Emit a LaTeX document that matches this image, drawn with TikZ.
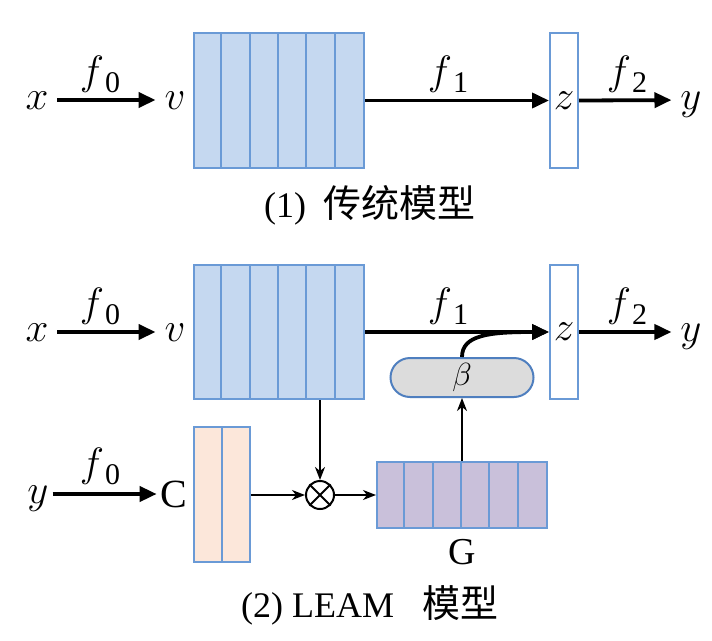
\RequirePackage{fix-cm}
\documentclass[tikz,border=0pt]{standalone}
\usepackage{fontspec}
\setmainfont{Liberation Serif}
\newfontfamily\cjk{Noto Sans CJK SC}
\usetikzlibrary{arrows.meta}
\definecolor{bfill}{HTML}{C5D8F0}
\definecolor{bline}{HTML}{6A9AD6}
\definecolor{pfill}{HTML}{FCE7DA}
\definecolor{gfill}{HTML}{C9C0DA}
\definecolor{betafill}{HTML}{DCDCDC}
\definecolor{betaline}{HTML}{4F7FBF}
\newcommand{\fsub}[2]{$#1$\kern1pt\raisebox{-0.2em}{\fontsize{30}{30}\selectfont #2}}
\tikzset{
  var/.style={font=\fontsize{41}{41}\selectfont, inner sep=0pt, outer sep=9pt, text height=18pt, text depth=0pt},
  flab/.style={font=\fontsize{41}{41}\selectfont, inner sep=0pt, anchor=base},
  blk/.style={draw=bline, line width=2pt, inner sep=0pt},
  sepl/.style={draw=bline, line width=2pt},
  big/.style={-{Triangle[length=17pt,width=15pt]}, line width=3.8pt},
  thinarr/.style={-{Stealth[length=13pt,width=10pt,inset=4pt]}, line width=1.8pt},
}
\begin{document}
\begin{tikzpicture}[x=1pt,y=-1pt]
\fill[white] (0,0) rectangle (712,640);
\useasboundingbox (0,0) rectangle (712,640);

% ---------- (1) traditional model ----------
\node[var] (x1) at (37,100) {$x$};
\node[var] (v1) at (175,100) {$v$};
\node[blk, fill=bfill, minimum width=170pt, minimum height=135pt] (b1) at (279,100.5) {};
\foreach \i in {1,...,5} \draw[sepl] ([xshift={\i*28.333pt}]b1.north west) -- ([xshift={\i*28.333pt}]b1.south west);
\node[blk, fill=white, minimum width=28pt, minimum height=135pt, font=\fontsize{41}{41}\selectfont] (z1) at (564,100.5) {$z$};
\node[var] (y1) at (691,100) {$y$};
\draw[big] (x1) -- (v1);
\draw[big] (b1.east |- z1) -- (z1.west);
\draw[big] (z1.east) -- (y1);
\node[flab] (f01) at (100,84) {\fsub{f}{0}};
\node[flab] (f11) at (448,84) {\fsub{f}{1}};
\node[flab] (f21) at (627,84) {\fsub{f}{2}};
\node[inner sep=0pt, font=\fontsize{36}{36}\selectfont] (cap1) at (370,205) {(1)\hspace{0.5em}{\cjk\fontsize{38}{38}\selectfont 传统模型}};

% ---------- (2) LEAM ----------
\node[var] (x2) at (37,332) {$x$};
\node[var] (v2) at (175,332) {$v$};
\node[blk, fill=bfill, minimum width=170pt, minimum height=134pt] (b2) at (279,332) {};
\foreach \i in {1,...,5} \draw[sepl] ([xshift={\i*28.333pt}]b2.north west) -- ([xshift={\i*28.333pt}]b2.south west);
\node[blk, fill=white, minimum width=28pt, minimum height=134pt, font=\fontsize{41}{41}\selectfont] (z2) at (564,332) {$z$};
\node[var] (y2) at (691,332) {$y$};
\draw[big] (x2) -- (v2);
\draw[big] (b2.east) -- (z2.west);
\draw[big] (z2.east) -- (y2);
\node[flab] (f02) at (100,316) {\fsub{f}{0}};
\node[flab] (f12) at (448,316) {\fsub{f}{1}};
\node[flab] (f22) at (627,316) {\fsub{f}{2}};

% beta capsule
\node[draw=betaline, fill=betafill, line width=2pt, minimum width=143pt, minimum height=39pt, rounded corners=19.5pt, inner sep=0pt, font=\fontsize{32}{32}\selectfont] (beta) at (462,377.5) {$\beta$};
\draw[big] (beta.north) .. controls +(0,-22) and +(-60,0) .. (z2.west);

% label branch
\node[var, outer sep=4pt] (y3) at (38,494) {$y$};
\node[inner sep=0pt, outer sep=4pt, font=\fontsize{40}{40}\selectfont] (c) at (174,494) {C};
\draw[big] (y3) -- (c);
\node[flab] (f03) at (100,476) {\fsub{f}{0}};
\node[blk, fill=pfill, minimum width=56pt, minimum height=135pt] (cb) at (222,494.5) {};
\draw[sepl] (cb.north) -- (cb.south);

% otimes
\node[draw, circle, line width=2pt, minimum size=28pt, inner sep=0pt] (ot) at (320,495) {};
\draw[line width=2pt] (ot.north east) -- (ot.south west) (ot.north west) -- (ot.south east);
\draw[thinarr] (b2.south -| ot) -- (ot.north);
\draw[thinarr] (cb.east |- ot) -- (ot.west);

% G block
\node[blk, fill=gfill, minimum width=170pt, minimum height=66pt] (gb) at (462,495) {};
\foreach \i in {1,...,5} \draw[sepl] ([xshift={\i*28.333pt}]gb.north west) -- ([xshift={\i*28.333pt}]gb.south west);
\node[inner sep=0pt, font=\fontsize{38}{38}\selectfont] (glab) at (462,552) {G};
\draw[thinarr] (ot.east) -- (gb.west);
\draw[thinarr] (gb.north) -- (beta.south);

\node[inner sep=0pt, font=\fontsize{36}{36}\selectfont] (cap2) at (370,605) {(2) LEAM\hspace{0.8em}{\cjk\fontsize{38}{38}\selectfont 模型}};
\end{tikzpicture}
\end{document}
